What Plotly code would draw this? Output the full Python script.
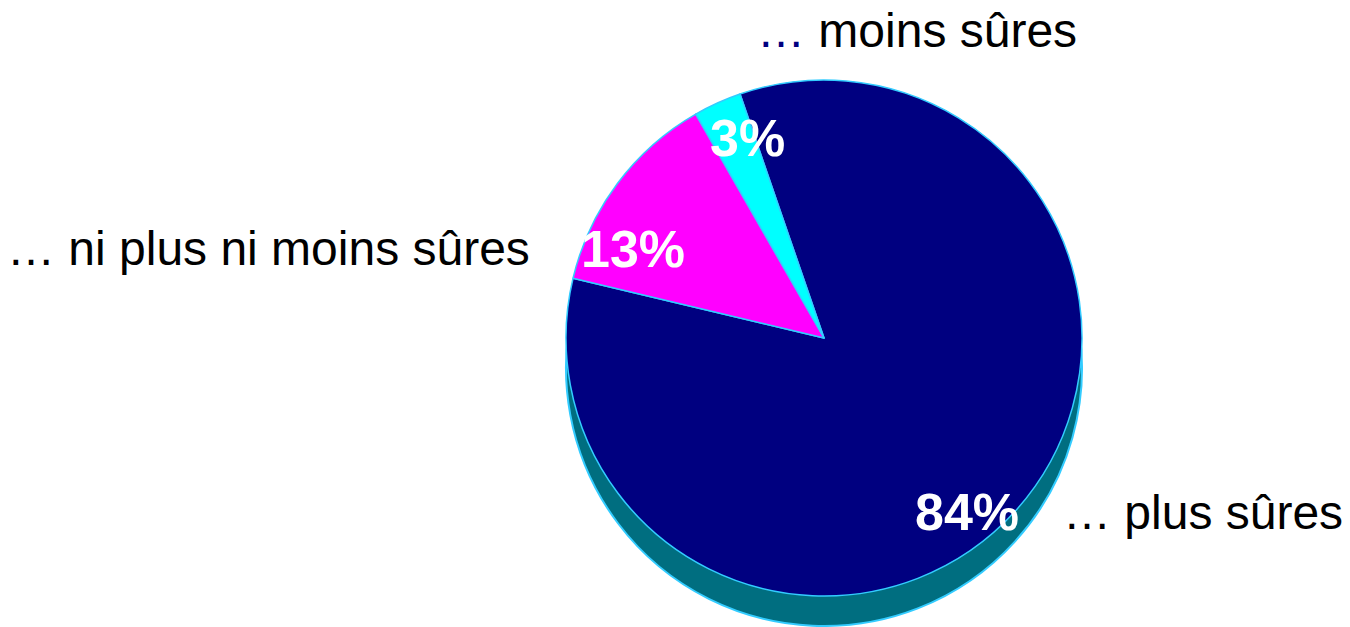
import plotly.graph_objects as go

# données du camembert
categories = ["… plus sûres", "… ni plus ni moins sûres", "… moins sûres"]
valeurs = [84, 13, 3]
couleurs = ["#000080", "#ff00ff", "#00ffff"]

W, H = 1350, 627
cx, cy, r = 824, 338, 258  # centre et rayon en pixels
prof = 30  # épaisseur du "3D"


def dom(cx, cy, r):
    return dict(x=[(cx - r) / W, (cx + r) / W],
                y=[max(0, (H - cy - r) / H), (H - cy + r) / H])


fig = go.Figure()

# côté (ombre) du camembert
fig.add_trace(go.Pie(
    values=valeurs,
    labels=categories,
    sort=False,
    direction="clockwise",
    rotation=-19,
    marker=dict(colors=["#006e80"] * len(valeurs), line=dict(color="#33ccff", width=2)),
    textinfo="none",
    hoverinfo="skip",
    showlegend=False,
    domain=dom(cx, cy + prof, r),
))

# face du dessus
fig.add_trace(go.Pie(
    values=valeurs,
    labels=categories,
    sort=False,
    direction="clockwise",
    rotation=-19,
    marker=dict(colors=couleurs, line=dict(color="#33ccff", width=1.5)),
    textinfo="none",
    showlegend=False,
    domain=dom(cx, cy, r),
))

police = "Liberation Sans, Arial, sans-serif"

# pourcentages
pos_pct = [(0.716, 0.183), (0.469, 0.603), (0.554, 0.780)]
for v, (x, y) in zip(valeurs, pos_pct):
    fig.add_annotation(x=x, y=y, xref="paper", yref="paper", showarrow=False,
                       xanchor="center", yanchor="middle",
                       text=f"<b>{v}%</b>", font=dict(family=police, size=52, color="white"))

# libellés
pos_lab = [(0.786, 0.183), (0.004, 0.604), (0.5595, 0.952)]
for lab, (x, y) in zip(categories, pos_lab):
    txt = lab
    if lab == "… moins sûres":
        txt = '<span style="color:#000080">…</span>' + lab[1:]
    fig.add_annotation(x=x, y=y, xref="paper", yref="paper", showarrow=False,
                       xanchor="left", yanchor="middle", text=txt,
                       font=dict(family=police, size=48, color="black"))

fig.update_layout(
    width=W,
    height=H,
    margin=dict(l=0, r=0, t=0, b=0),
    paper_bgcolor="white",
    plot_bgcolor="white",
)

fig.write_html("out.html", config={"displayModeBar": False},
               post_script="document.body.style.margin='0';")
